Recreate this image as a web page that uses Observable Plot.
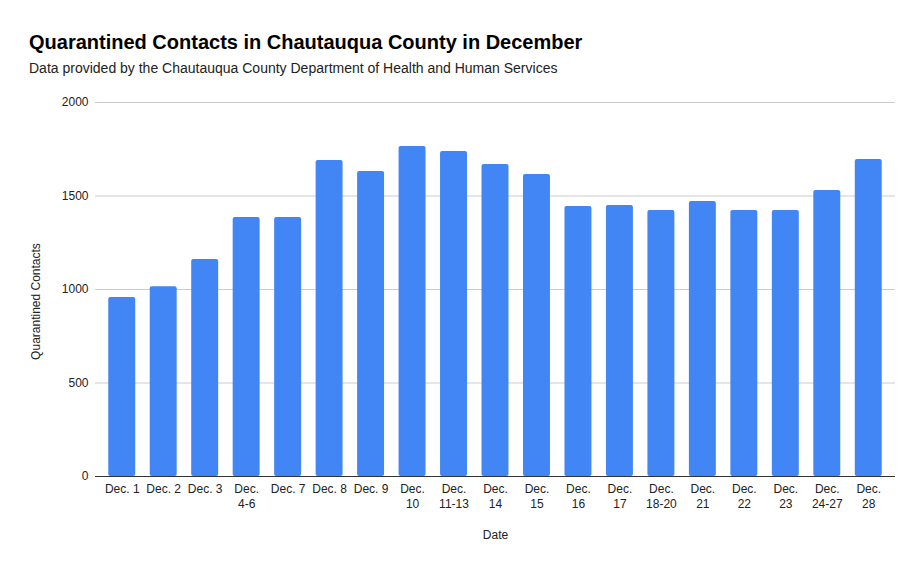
<!DOCTYPE html>
<html><head><meta charset="utf-8">
<script src="https://cdn.jsdelivr.net/npm/d3@7"></script>
<script src="https://cdn.jsdelivr.net/npm/@observablehq/plot@0.6"></script>
<style>
body{margin:0;background:#fff;font-family:"Liberation Sans",Arial,sans-serif;}
#wrap{position:relative;width:924px;height:571px;overflow:hidden;}
#header{position:relative;height:80px;}
#title{position:absolute;left:29px;top:32px;font-size:20px;font-weight:bold;color:#000;margin:0;line-height:1;white-space:nowrap;}
#subtitle{position:absolute;left:29px;top:61px;font-size:14px;color:#222;margin:0;line-height:1;white-space:nowrap;}
#chart svg{display:block;}
</style>
</head><body>
<div id="wrap">
  <div id="header">
    <h1 id="title">Quarantined Contacts in Chautauqua County in December</h1>
    <p id="subtitle">Data provided by the Chautauqua County Department of Health and Human Services</p>
  </div>
  <div id="chart"></div>
</div>
<script>
const dates = ["Dec. 1","Dec. 2","Dec. 3","Dec. 4-6","Dec. 7","Dec. 8","Dec. 9","Dec. 10","Dec. 11-13","Dec. 14","Dec. 15","Dec. 16","Dec. 17","Dec. 18-20","Dec. 21","Dec. 22","Dec. 23","Dec. 24-27","Dec. 28"];
const tickLabels = ["Dec. 1","Dec. 2","Dec. 3","Dec.\n4-6","Dec. 7","Dec. 8","Dec. 9","Dec.\n10","Dec.\n11-13","Dec.\n14","Dec.\n15","Dec.\n16","Dec.\n17","Dec.\n18-20","Dec.\n21","Dec.\n22","Dec.\n23","Dec.\n24-27","Dec.\n28"];
const contacts = [957,1015,1160,1385,1385,1690,1631,1765,1738,1668,1615,1444,1449,1422,1471,1422,1422,1529,1695];
const yTicks = [0,500,1000,1500,2000];

const data = dates.map((d,i)=>({date:d, value:contacts[i]}));
const labelOf = new Map(dates.map((d,i)=>[d, tickLabels[i]]));
const font = '"Liberation Sans", Arial, sans-serif';

const chart = Plot.plot({
  width: 924, height: 491,
  marginTop: 22, marginBottom: 95, marginLeft: 95, marginRight: 29,
  style: {fontFamily: font, fontSize: "12px", color: "#222", background: "#fff"},
  x: {domain: dates, paddingInner: 0.35, paddingOuter: 0.175, insetLeft: 6, insetRight: 6, round: false, label: null},
  y: {domain: [0, 2000], label: null},
  marks: [
    Plot.gridY(yTicks, {stroke: "#ccc", strokeOpacity: 1}),
    Plot.barY(data, {x: "date", y: "value", fill: "#4285F4", rx: 2}),
    Plot.ruleY([0], {stroke: "#333"}),
    Plot.axisY(yTicks, {tickSize: 0, tickPadding: 7, tickFormat: d => String(d), label: null, fill: "#222", fontSize: 12}),
    Plot.axisX({tickSize: 0, tickPadding: 7, tickFormat: d => labelOf.get(d), label: null, fill: "#222", fontSize: 12, lineHeight: 1.17}),
    Plot.text(["Quarantined Contacts"], {frameAnchor: "left", dx: -59, dy: 12, rotate: -90, text: d => d, textAnchor: "middle", lineAnchor: "middle", fill: "#222", fontSize: 12}),
    Plot.text(["Date"], {frameAnchor: "bottom", dy: 59, text: d => d, textAnchor: "middle", lineAnchor: "middle", fill: "#222", fontSize: 12})
  ]
});
document.getElementById("chart").appendChild(chart);
</script>
</body></html>
